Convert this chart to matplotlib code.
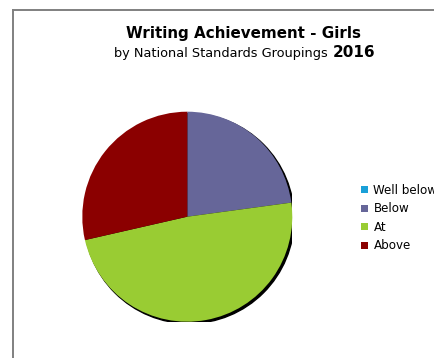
import matplotlib
matplotlib.use("Agg")
import matplotlib.pyplot as plt
from matplotlib.lines import Line2D
from matplotlib.patches import Circle

categories = ["Well below", "Below", "At", "Above"]
values = [0, 16, 34, 20]
colors = ["#1aa0d8", "#666699", "#99cc33", "#8b0000"]
title = "Writing Achievement - Girls"
subtitle = "by National Standards Groupings"
year = "2016"

W, H = 435, 358
fig = plt.figure(figsize=(W / 100, H / 100), dpi=100)
fig.patch.set_facecolor("white")

def fx(px): return px / W
def fy(py): return 1 - py / H
fig.add_artist(Line2D([fx(13), fx(440)], [fy(9.5), fy(9.5)], color="#808080", lw=1.4))
fig.add_artist(Line2D([fx(13), fx(13)], [fy(9.5), fy(360)], color="#808080", lw=1.4))

cx, cy, r = 187.3, 216.7, 105
ax = fig.add_axes([fx(cx - r), fy(cy + r), 2 * r / W, 2 * r / H])
shadow = Circle((0.018, -0.018), 1.0, color="black", zorder=0)
ax.add_patch(shadow)
wedges, _ = ax.pie(values, colors=colors, startangle=90, counterclock=False,
                   wedgeprops=dict(linewidth=0))
for w in wedges:
    w.set_zorder(1)
ax.set_xlim(-1, 1)
ax.set_ylim(-1, 1)
ax.set_aspect("auto")
ax.axis("off")

fig.text(fx(244), fy(38.3), title, ha="center", va="baseline",
         fontsize=10.9, fontweight="bold", family="DejaVu Sans")
fig.text(fx(328), fy(56.7), subtitle, ha="right", va="baseline",
         fontsize=9.3, family="DejaVu Sans")
fig.text(fx(333), fy(56.7), year, ha="left", va="baseline",
         fontsize=11, fontweight="bold", family="DejaVu Sans")

leg = fig.legend(wedges, categories, loc="upper left",
                 bbox_to_anchor=(fx(361.5), fy(184)), frameon=False,
                 prop=dict(family="DejaVu Sans", size=8.6),
                 handlelength=0.55, handleheight=0.55,
                 handletextpad=0.45, labelspacing=0.46, borderpad=0, borderaxespad=0)

fig.savefig("out.png", dpi=100)
